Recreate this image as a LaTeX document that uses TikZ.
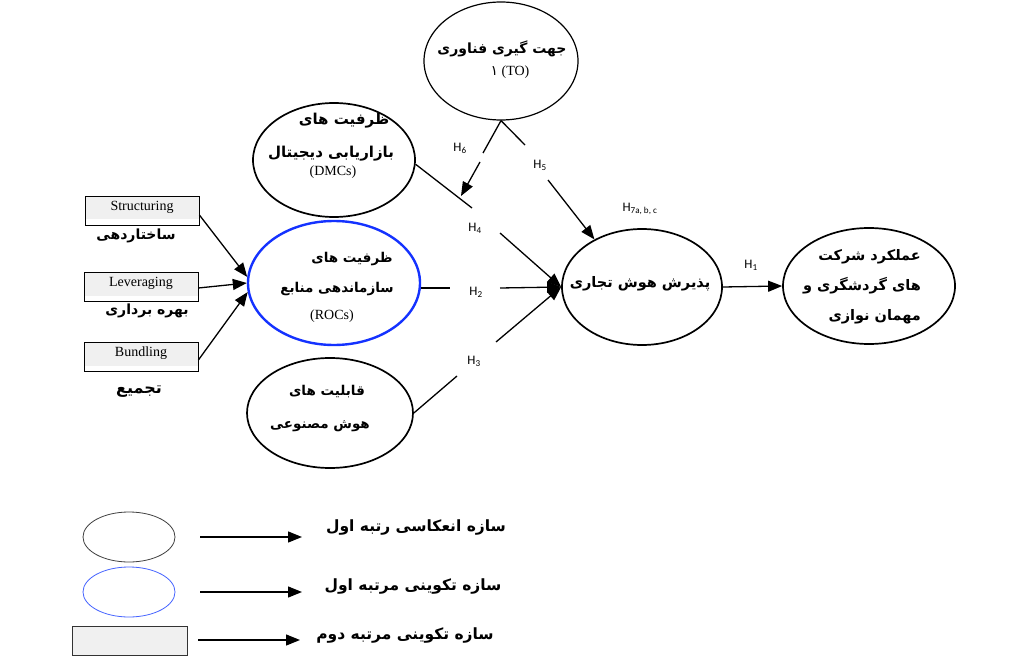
\documentclass[tikz,border=0pt]{standalone}
\usepackage{fontspec}
\setmainfont{Liberation Serif}
\newfontfamily\arabicfont[Script=Arabic]{DejaVu Sans}
\newfontfamily\hfont{Carlito}
\TeXXeTstate=1
\usetikzlibrary{shapes.geometric,arrows.meta}
\tikzset{
  ell/.style={draw, ellipse, line width=1.7pt, inner sep=0pt},
  lell/.style={draw=black!75, ellipse, line width=0.8pt, inner sep=0pt, minimum width=92pt, minimum height=50pt},
  fa/.style={font=\arabicfont\bfseries\fontsize{14}{16}\selectfont, inner sep=0pt},
  fs/.style={font=\arabicfont\bfseries\fontsize{#1}{#1}\selectfont},
  hl/.style={font=\hfont\fontsize{13}{14}\selectfont, inner sep=0pt},
  en/.style={font=\fontsize{14}{16}\selectfont, inner sep=0pt},
  conn/.style={line width=1.3pt},
  arr/.style={conn, -{Triangle[length=14pt,width=11pt]}},
  boxn/.style={draw, line width=0.8pt, fill=gray!12, minimum width=114pt, minimum height=29pt, inner sep=0pt,
    path picture={\fill[white] ([xshift=0.5pt,yshift=0.5pt]path picture bounding box.south west) rectangle ([xshift=-0.5pt,yshift=6pt]path picture bounding box.south east);}},
}
\begin{document}
\begin{tikzpicture}[x=1pt,y=-1pt]
\useasboundingbox[fill=white] (0,0) rectangle (1024,668);
% ellipses
\node[ell, line width=1.2pt, minimum width=154pt, minimum height=118pt] (to) at (501,61) {};
\node[ell, minimum width=162pt, minimum height=114pt] (dmc) at (334,160) {};
\node[ell, draw={rgb,255:red,20;green,50;blue,255}, line width=2.4pt, minimum width=172pt, minimum height=124pt] (roc) at (334,283) {};
\node[ell, minimum width=166pt, minimum height=110pt] (ai) at (330,413) {};
\node[ell, minimum width=160pt, minimum height=116pt] (cen) at (642,287) {};
\node[ell, minimum width=172pt, minimum height=116pt] (perf) at (869,286) {};
% texts in ellipses
\node[fa] (tot) at (502,49) {\beginR جهت گیری فناوری\endR};
\node[en] (tos) at (510,72) {{\arabicfont ۱} (TO)};
\node[fa, fs=15] (dmt1) at (344,121) {\beginR ظرفیت های\endR};
\node[fa, fs=15] (dmt2) at (331,154) {\beginR بازاریابی دیجیتال\endR};
\node[en] (dmt3) at (333,172) {(DMCs)};
\node[fa, fs=13.5] (rot1) at (352,259) {\beginR ظرفیت های\endR};
\node[fa, fs=13.5] (rot2) at (337,289) {\beginR سازماندهی منابع\endR};
\node[en] (rot3) at (332,316) {(ROCs)};
\node[fa, fs=13.5] (ait1) at (327,392) {\beginR قابلیت های\endR};
\node[fa, fs=13.5] (ait2) at (320,426) {\beginR هوش مصنوعی\endR};
\node[fa, fs=14.5] (cent) at (640,284) {\beginR پذیرش هوش تجاری\endR};
\node[fa, font=\arabicfont\bfseries\fontsize{14.5}{30}\selectfont, align=right, anchor=east] (perft) at (921,287)
  {\beginR عملکرد شرکت\endR\\\beginR های گردشگری و\endR\\\beginR مهمان نوازی\endR};
% left boxes
\node[boxn] (st) at (142,211) {};
\node[en] (stt) at (142,207) {Structuring};
\node[boxn] (lv) at (141,287) {};
\node[en] (lvt) at (141,283) {Leveraging};
\node[boxn] (bu) at (141,357) {};
\node[en] (but) at (141,353) {Bundling};
\node[fa] (stf) at (136,236) {\beginR ساختاردهی\endR};
\node[fa] (lvf) at (147,311) {\beginR بهره برداری\endR};
\node[fa, fs=16] (buf) at (139,392) {\beginR تجمیع\endR};
\draw[arr] ([yshift=-4pt]st.east) -- (roc.176);
\draw[arr] (lv.east |- 0,288) -- (roc.180);
\draw[arr] ([yshift=-3pt]bu.east) -- (roc.186);
% gap coordinates
\coordinate (g6a) at (483,153);
\coordinate (g6b) at (480,162);
\coordinate (h6tip) at (461,196);
\coordinate (g5a) at (525,145);
\coordinate (g5b) at (548,180);
\coordinate (g4a) at (472,208);
\coordinate (g4b) at (500,233);
\coordinate (g2a) at (450,288);
\coordinate (g2b) at (500,288);
\coordinate (g3a) at (457,376);
\coordinate (g3b) at (496,342);
% connectors
\draw[conn] (dmc.357) -- (g4a);
\draw[arr] (g4b) -- (cen.west);
\draw[conn] (roc.east |- g2a) -- (g2a);
\draw[arr] (g2b) -- (cen.west);
\draw[conn] (ai.east) -- (g3a);
\draw[arr] (g3b) -- (cen.west);
\draw[conn] (to.south) -- (g6a);
\draw[arr] (g6b) -- (h6tip);
\draw[conn] (to.south) -- (g5a);
\draw[arr] (g5b) -- (cen.135);
\draw[arr] (cen.east) -- (perf.west);
% labels
\node[hl] (h6) at (460,148) {H\textsubscript{6}};
\node[hl] (h5) at (540,165) {H\textsubscript{5}};
\node[hl] (h4) at (475,228) {H\textsubscript{4}};
\node[hl] (h2) at (476,292) {H\textsubscript{2}};
\node[hl] (h3) at (474,361) {H\textsubscript{3}};
\node[hl] (h7) at (640,209) {H\textsubscript{7a, b, c}};
\node[hl] (h1) at (751,265) {H\textsubscript{1}};
% legend
\node[lell] (l1) at (129,537) {};
\node[lell, draw={rgb,255:red,70;green,100;blue,255}] (l2) at (129,592) {};
\node[draw=black!80, line width=0.8pt, fill=gray!12, minimum width=115pt, minimum height=29pt, inner sep=0pt] (l3) at (129.5,640.5) {};
\coordinate (la1) at (200,537); \coordinate (lb1) at (302,537);
\coordinate (la2) at (200,592); \coordinate (lb2) at (302,592);
\coordinate (la3) at (198,640); \coordinate (lb3) at (300,640);
\draw[arr] (la1) -- (lb1);
\draw[arr] (la2) -- (lb2);
\draw[arr] (la3) -- (lb3);
\node[fa, fs=15.5] (lt1) at (416,527) {\beginR سازه انعکاسی رتبه اول\endR};
\node[fa, fs=15.5] (lt2) at (413,586) {\beginR سازه تکوینی مرتبه اول\endR};
\node[fa, fs=15.5] (lt3) at (405,635) {\beginR سازه تکوینی مرتبه دوم\endR};
\end{tikzpicture}
\end{document}
